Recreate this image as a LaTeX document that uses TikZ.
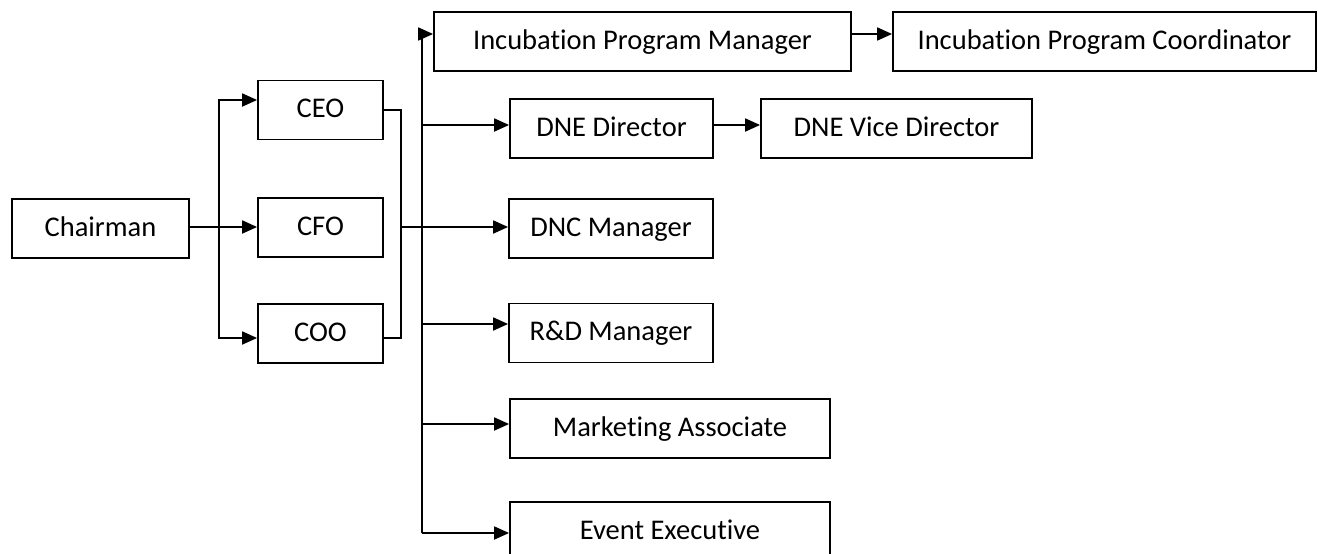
\documentclass[tikz,border=0pt]{standalone}
\usepackage{fontspec}
\setmainfont{Carlito}[Ligatures=NoCommon]
\usetikzlibrary{arrows.meta}
\begin{document}
\begin{tikzpicture}[x=1pt,y=-1pt,
  box/.style={draw,line width=1.8pt,minimum height=59pt,inner sep=0pt,text height=21pt,text depth=6pt,font=\fontsize{28.5}{34}\selectfont},
  link/.style={line width=1.8pt},
  arr/.style={link,-{Triangle[length=15pt,width=13pt]}}]
\useasboundingbox (0,0) rectangle (1318,554);
\node[box,minimum width=177pt](chair) at(100.5,228.5){Chairman};
\node[box,minimum width=125pt](ceo) at(320.5,110){CEO};
\node[box,minimum width=125pt](cfo) at(320.5,227.5){CFO};
\node[box,minimum width=125pt](coo) at(320.5,333.5){COO};
\node[box,minimum width=417pt](ipm) at(642.5,41.5){Incubation Program Manager};
\node[box,minimum width=423pt](ipc) at(1104.5,41.5){Incubation Program Coordinator};
\node[box,minimum width=203pt](dned) at(611.5,128.5){DNE Director};
\node[box,minimum width=271pt](dnev) at(896.5,128.5){DNE Vice Director};
\node[box,minimum width=204pt](dnc) at(611,228.5){DNC Manager};
\node[box,minimum width=204pt](rnd) at(611,333){R\&D Manager};
\node[box,minimum width=320pt](mkt) at(670,428.5){Marketing Associate};
\node[box,minimum width=320pt](evt) at(670,531.5){Event Executive};
\coordinate (lb) at(219,227);
\coordinate (rb) at(401,227);
\coordinate (mb) at(422,533);
\draw[arr] ([yshift=1.5pt]chair.east) -- ([yshift=0.5pt]cfo.west);
\draw[arr] (lb) |- ([yshift=10pt]ceo.west);
\draw[arr] (lb) |- ([yshift=-4.5pt]coo.west);
\draw[link] (ceo.east) -| (rb) |- ([yshift=-4.5pt]coo.east);
\draw[arr] (rb) -- ([yshift=1.5pt]dnc.west);
\draw[arr] (mb) |- ([yshift=7.5pt]ipm.west);
\foreach \n/\s in {dned/3.5,rnd/9,mkt/4.5,evt/-1.5}{
  \path ([yshift=\s pt]\n.west) coordinate (t);
  \draw[arr] (mb |- t) -- (t);
}
\draw[arr] ([yshift=7.5pt]ipm.east) -- ([yshift=7.5pt]ipc.west);
\draw[arr] ([yshift=3.5pt]dned.east) -- ([yshift=3.5pt]dnev.west);
\end{tikzpicture}
\end{document}
